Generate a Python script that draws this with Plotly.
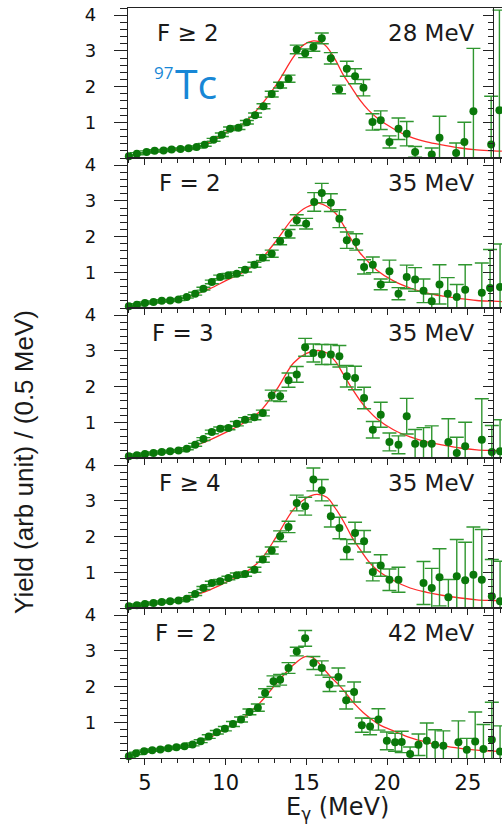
import plotly.graph_objects as go

# ---------------- data ----------------
P1_X = [4.0, 4.5, 5.1, 5.6, 6.15, 6.65, 7.2, 7.7, 8.2, 8.7, 9.25, 9.76, 10.27, 10.79, 11.31, 11.82, 12.34, 12.85, 13.37, 13.89,
        14.4, 14.92, 15.43, 15.95, 16.51, 17.02, 17.5, 18.01, 18.53, 19.09, 19.6, 20.14, 20.7, 21.21, 21.73, 22.76, 23.24,
        24.27, 24.78, 25.34, 26.44, 26.95]
P1_Y = [0.05, 0.12, 0.17, 0.2, 0.21, 0.24, 0.25, 0.27, 0.31, 0.37, 0.51, 0.65, 0.82, 0.85, 1.0, 1.2, 1.45, 1.79, 2.04, 2.22,
        3.04, 2.93, 3.11, 3.35, 2.79, 1.92, 2.5, 2.29, 1.97, 1.01, 1.06, 0.45, 0.82, 0.68, 0.17, 0.10, 0.57,
        0.14, 0.45, 1.31, 0.38, 1.34]
P1_E = [0.03, 0.03, 0.03, 0.03, 0.03, 0.03, 0.03, 0.03, 0.03, 0.04, 0.04, 0.05, 0.05, 0.05, 0.05, 0.06, 0.07, 0.08, 0.08, 0.1,
        0.12, 0.12, 0.12, 0.15, 0.16, 0.12, 0.21, 0.21, 0.23, 0.23, 0.26, 0.17, 0.3, 0.34, 0.15, 0.18, 0.6,
        0.28, 0.55, 1.76, 1.35, 2.8]

P2_X = [4.0, 4.5, 5.0, 5.53, 6.04, 6.56, 7.08, 7.59, 8.11, 8.62, 9.14, 9.66, 10.17, 10.69, 11.2, 11.78, 12.3, 12.85, 13.37, 13.89,
        14.4, 14.98, 15.48, 15.95, 16.51, 17.04, 17.5, 18.08, 18.57, 19.11, 19.6, 20.14, 20.7, 21.21, 21.73, 22.25, 22.76,
        23.24, 23.75, 24.31, 24.83, 25.86, 26.37, 26.99]
P2_Y = [0.05, 0.09, 0.14, 0.17, 0.2, 0.21, 0.24, 0.31, 0.4, 0.54, 0.73, 0.87, 0.92, 0.96, 1.07, 1.21, 1.41, 1.52, 1.87, 2.08,
        2.46, 2.36, 2.97, 3.22, 2.95, 2.5, 1.9, 1.85, 1.15, 1.21, 0.66, 1.03, 0.4, 0.87, 0.8, 0.48, 0.19,
        0.66, 0.4, 0.31, 0.51, 0.43, 0.56, 0.59]
P2_E = [0.03, 0.03, 0.03, 0.03, 0.03, 0.03, 0.03, 0.03, 0.04, 0.04, 0.05, 0.05, 0.05, 0.05, 0.06, 0.07, 0.08, 0.1, 0.1, 0.12,
        0.15, 0.15, 0.26, 0.27, 0.25, 0.25, 0.23, 0.23, 0.2, 0.22, 0.15, 0.31, 0.17, 0.33, 0.33, 0.33, 0.2,
        0.55, 0.45, 0.35, 0.7, 0.83, 1.08, 1.2]

P3_X = [4.0, 4.5, 5.0, 5.53, 6.04, 6.56, 7.08, 7.59, 8.11, 8.62, 9.14, 9.66, 10.17, 10.69, 11.2, 11.78, 12.3, 12.85, 13.37, 13.89,
        14.4, 14.92, 15.43, 15.95, 16.51, 17.04, 17.5, 18.01, 18.57, 19.11, 19.6, 20.14, 20.7, 21.21, 21.73, 22.25, 22.76,
        23.79, 24.31, 24.83, 25.86, 26.48, 26.99]
P3_Y = [0.05, 0.08, 0.11, 0.14, 0.17, 0.19, 0.21, 0.26, 0.37, 0.53, 0.73, 0.82, 0.84, 0.96, 1.07, 1.14, 1.26, 1.75, 1.73, 2.18,
        2.34, 3.1, 2.94, 2.9, 2.9, 2.85, 2.29, 2.24, 1.68, 0.79, 1.21, 0.45, 0.37, 1.17, 0.4, 0.4, 0.4,
        0.45, 0.14, 0.33, 0.51, 0.17, 0.19]
P3_E = [0.03, 0.03, 0.03, 0.03, 0.03, 0.03, 0.03, 0.03, 0.04, 0.04, 0.05, 0.05, 0.05, 0.06, 0.06, 0.07, 0.08, 0.15, 0.15, 0.2,
        0.22, 0.25, 0.25, 0.28, 0.28, 0.3, 0.3, 0.33, 0.3, 0.23, 0.35, 0.25, 0.25, 0.5, 0.4, 0.45, 0.5,
        0.65, 0.44, 0.67, 1.15, 0.74, 0.88]

P4_X = [4.0, 4.5, 5.0, 5.53, 6.04, 6.56, 7.08, 7.59, 8.11, 8.62, 9.14, 9.66, 10.17, 10.69, 11.2, 11.78, 12.3, 12.85, 13.37, 13.89,
        14.4, 14.92, 15.43, 15.95, 16.51, 17.04, 17.5, 18.01, 18.57, 19.11, 19.6, 20.14, 20.7, 22.25, 22.76, 23.24, 23.79,
        24.31, 24.83, 25.34, 25.86, 26.48, 26.99]
P4_Y = [0.05, 0.08, 0.11, 0.14, 0.17, 0.19, 0.21, 0.26, 0.39, 0.56, 0.7, 0.75, 0.84, 0.92, 0.95, 1.07, 1.36, 1.61, 2.01, 2.27,
        2.94, 2.85, 3.6, 3.3, 2.57, 2.24, 1.64, 2.1, 1.87, 1.01, 1.19, 0.79, 0.79, 0.7, 0.56, 0.86, 0.3,
        0.89, 0.78, 0.93, 0.79, 0.33, 0.19]
P4_E = [0.03, 0.03, 0.03, 0.03, 0.03, 0.03, 0.03, 0.03, 0.04, 0.04, 0.05, 0.05, 0.05, 0.06, 0.06, 0.07, 0.08, 0.1, 0.15, 0.16,
        0.22, 0.25, 0.32, 0.3, 0.3, 0.3, 0.28, 0.3, 0.3, 0.25, 0.3, 0.3, 0.35, 0.6, 0.55, 0.8, 0.5,
        1.03, 1.06, 1.34, 1.41, 1.03, 1.12]

P5_X = [4.0, 4.45, 4.95, 5.45, 5.95, 6.45, 6.95, 7.45, 7.95, 8.45, 8.95, 9.45, 9.95, 10.45, 10.95, 11.47, 11.99, 12.44, 12.96, 13.37,
        13.89, 14.4, 14.92, 15.43, 15.95, 16.43, 16.98, 17.46, 17.95, 18.43, 18.94, 19.46, 19.98, 20.49, 20.9, 21.42, 21.94,
        22.45, 22.97, 23.48, 24.41, 24.93, 25.45, 25.96, 26.48, 26.99]
P5_Y = [0.05, 0.13, 0.19, 0.22, 0.24, 0.27, 0.3, 0.33, 0.38, 0.47, 0.6, 0.72, 0.82, 0.95, 1.08, 1.29, 1.41, 1.82, 2.15, 2.19,
        2.52, 2.98, 3.35, 2.66, 2.52, 2.06, 2.27, 1.62, 1.85, 0.92, 0.88, 1.08, 0.48, 0.44, 0.45, 0.11, 0.37,
        0.48, 0.37, 0.34, 0.44, 0.23, 0.46, 0.25, 0.51, 0.18]
P5_E = [0.03, 0.03, 0.03, 0.03, 0.03, 0.03, 0.03, 0.03, 0.04, 0.04, 0.05, 0.05, 0.06, 0.07, 0.07, 0.08, 0.1, 0.12, 0.15, 0.15,
        0.15, 0.12, 0.22, 0.18, 0.2, 0.2, 0.25, 0.25, 0.28, 0.2, 0.23, 0.3, 0.25, 0.25, 0.3, 0.2, 0.3,
        0.5, 0.42, 0.42, 0.6, 0.32, 0.83, 0.69, 1.05, 0.72]

# fitted curves (red lines)
C1_X = [4.0, 4.9, 5.94, 6.97, 8.0, 9.03, 10.07, 11.1, 12.13, 13.16, 14.2, 14.8, 15.43, 15.95, 16.26, 16.78, 17.29, 17.8,
        18.32, 18.84, 19.36, 20.39, 21.42, 22.45, 23.48, 24.52, 25.55, 26.58, 27.1]
C1_Y = [0.05, 0.15, 0.2, 0.24, 0.28, 0.45, 0.73, 0.96, 1.45, 2.07, 2.83, 3.16, 3.28, 3.23, 3.11, 2.76, 2.32, 1.97,
        1.62, 1.34, 1.13, 0.82, 0.59, 0.45, 0.36, 0.28, 0.23, 0.2, 0.19]
C2_X = [4.0, 4.9, 5.94, 6.97, 8.0, 9.03, 10.07, 11.1, 12.13, 13.16, 14.2, 15.0, 15.8, 16.78, 17.29, 17.8, 18.32, 18.84,
        19.36, 20.39, 21.42, 22.45, 23.48, 24.52, 25.55, 26.58, 27.1]
C2_Y = [0.03, 0.1, 0.17, 0.23, 0.36, 0.54, 0.78, 1.0, 1.34, 1.9, 2.53, 2.82, 2.93, 2.66, 2.32, 1.9, 1.54, 1.29,
        1.06, 0.76, 0.56, 0.42, 0.33, 0.26, 0.21, 0.19, 0.18]
C3_X = [4.0, 4.9, 5.94, 6.97, 8.0, 9.03, 10.07, 11.1, 12.13, 13.16, 14.2, 15.0, 15.74, 16.26, 16.78, 17.29, 17.8, 18.32,
        18.84, 19.36, 20.39, 21.42, 22.45, 23.48, 24.52, 25.55, 26.58, 27.1]
C3_Y = [0.03, 0.09, 0.15, 0.21, 0.33, 0.51, 0.73, 0.98, 1.31, 1.92, 2.66, 2.93, 3.01, 2.94, 2.71, 2.34, 1.96, 1.61,
        1.33, 1.1, 0.79, 0.59, 0.45, 0.36, 0.28, 0.23, 0.21, 0.2]
C4_X = [4.0, 4.9, 5.94, 6.97, 8.0, 9.03, 10.07, 11.1, 12.13, 13.16, 14.2, 15.0, 15.64, 16.26, 16.78, 17.29, 17.8, 18.32,
        18.84, 19.36, 20.39, 21.42, 22.45, 23.48, 24.52, 25.55, 26.58, 27.1]
C4_Y = [0.03, 0.09, 0.15, 0.21, 0.35, 0.51, 0.73, 0.96, 1.33, 2.01, 2.76, 3.08, 3.18, 3.1, 2.8, 2.43, 2.0, 1.64,
        1.31, 1.07, 0.77, 0.56, 0.44, 0.35, 0.28, 0.23, 0.21, 0.2]
C5_X = [4.0, 4.9, 5.94, 6.97, 8.0, 9.03, 10.07, 11.1, 12.13, 13.16, 14.2, 14.92, 15.43, 15.95, 16.47, 16.98, 17.5, 18.01,
        18.53, 19.05, 19.56, 20.39, 21.42, 22.45, 23.48, 24.52, 25.55, 26.58, 27.1]
C5_Y = [0.06, 0.18, 0.24, 0.3, 0.39, 0.57, 0.85, 1.13, 1.55, 2.1, 2.61, 2.84, 2.8, 2.56, 2.29, 2.06, 1.78, 1.5,
        1.27, 1.08, 0.92, 0.76, 0.57, 0.44, 0.34, 0.27, 0.22, 0.19, 0.19]

LEFT_LABELS = ["F ≥ 2", "F = 2", "F = 3", "F ≥ 4", "F = 2"]
RIGHT_LABELS = ["28 MeV", "35 MeV", "35 MeV", "35 MeV", "42 MeV"]
Y_TICKS = [1, 2, 3, 4]
X_TICKS = [5, 10, 15, 20, 25]

PANELS = [(P1_X, P1_Y, P1_E, C1_X, C1_Y), (P2_X, P2_Y, P2_E, C2_X, C2_Y), (P3_X, P3_Y, P3_E, C3_X, C3_Y),
          (P4_X, P4_Y, P4_E, C4_X, C4_Y), (P5_X, P5_Y, P5_E, C5_X, C5_Y)]

# ---------------- figure ----------------
W, H = 502, 828
ML, MR, MT, MB = 128, 0, 8, 70
PW, PH = W - ML - MR, H - MT - MB
XR = [3.95, 27.11]
YR = [0, 4.2]
FONT = "DejaVu Sans, Liberation Sans, Arial"
MARK = "#0a780a"
ERRC = "#2f962f"
RED = "#ff2a2a"
AX = "#222222"

fig = go.Figure()
layout = {}
n = len(PANELS)
for i, (px, py, pe, cx, cy) in enumerate(PANELS):
    k = i + 1
    xs = "" if k == 1 else str(k)
    ys = xs
    fig.add_trace(go.Scatter(x=cx, y=cy, mode="lines", line=dict(color=RED, width=1.3, shape="spline"),
                             xaxis="x" + xs, yaxis="y" + ys, showlegend=False, hoverinfo="skip"))
    fig.add_trace(go.Scatter(x=px, y=py, mode="markers", cliponaxis=False,
                             marker=dict(color=MARK, size=8, line=dict(width=0)),
                             error_y=dict(type="data", array=pe, visible=True, color=ERRC, thickness=1.4, width=7),
                             xaxis="x" + xs, yaxis="y" + ys, showlegend=False))
    # dummy trace for the right-hand frame axis
    fig.add_trace(go.Scatter(x=[None], y=[None], xaxis="x" + xs, yaxis="y" + str(k + n),
                             showlegend=False, hoverinfo="skip"))
    top = 1 - i / n
    bot = 1 - (i + 1) / n
    layout["xaxis" + xs] = dict(
        range=XR, anchor="y" + ys, domain=[0, 1], showgrid=False, zeroline=False,
        showline=True, linecolor=AX, linewidth=1.2, mirror=True,
        tickvals=X_TICKS, ticks="outside", ticklen=6, tickwidth=1.2, tickcolor=AX,
        minor=dict(dtick=1, ticks="outside", ticklen=4, tickwidth=1.0, tickcolor=AX),
        showticklabels=(k == n), ticklabelstandoff=0,
        tickfont=dict(family=FONT, size=21, color="#111111"))
    layout["yaxis" + ys] = dict(
        range=YR, anchor="x" + xs, domain=[bot, top], showgrid=False, zeroline=False,
        showline=True, linecolor=AX, linewidth=1.2,
        tickvals=Y_TICKS, ticks="outside", ticklen=13, tickwidth=1.2, tickcolor=AX,
        minor=dict(dtick=0.2, ticks="outside", ticklen=7, tickwidth=1.0, tickcolor=AX),
        ticklabelstandoff=14, tickfont=dict(family=FONT, size=18, color="#111111"))
    layout["yaxis" + str(k + n)] = dict(
        range=YR, overlaying="y" + ys, anchor="free", position=(493 - ML) / PW, side="right",
        showgrid=False, zeroline=False, showline=True, linecolor=AX, linewidth=1.2,
        tickvals=Y_TICKS, ticks="inside", ticklen=10, tickwidth=1.2, tickcolor=AX,
        minor=dict(dtick=0.2, ticks="inside", ticklen=5, tickwidth=1.0, tickcolor=AX),
        showticklabels=False)


def px2paper(xpx, ypx):
    return (xpx - ML) / PW, (H - MB - ypx) / PH


annotations = []
panel_tops = [MT + PH / n * i for i in range(n)]
left_x = [155, 157, 150, 157, 153]
for i in range(n):
    yc = panel_tops[i] + 25
    xa, ya = px2paper(left_x[i], yc)
    annotations.append(dict(text=LEFT_LABELS[i], x=xa, y=ya, xref="paper", yref="paper", xanchor="left",
                            yanchor="middle", showarrow=False, font=dict(family=FONT, size=23, color="#1a1a1a")))
    xa, ya = px2paper(477, yc)
    annotations.append(dict(text=RIGHT_LABELS[i], x=xa, y=ya, xref="paper", yref="paper", xanchor="right",
                            yanchor="middle", showarrow=False, font=dict(family=FONT, size=23, color="#1a1a1a")))

BLUE = "#1787d6"
xa, ya = px2paper(152, 72)
annotations.append(dict(text="97", x=xa, y=ya, xref="paper", yref="paper", xanchor="left", yanchor="middle",
                        showarrow=False, font=dict(family="Open Sans", size=17, color=BLUE)))
xa, ya = px2paper(173, 83)
annotations.append(dict(text="Tc", x=xa, y=ya, xref="paper", yref="paper", xanchor="left", yanchor="middle",
                        showarrow=False, font=dict(family="Open Sans", size=41, color=BLUE)))

xa, ya = px2paper(337, 808)
annotations.append(dict(text="E<sub>γ</sub> (MeV)", x=xa, y=ya, xref="paper", yref="paper", xanchor="center",
                        yanchor="middle", showarrow=False, font=dict(family=FONT, size=24, color="#1a1a1a")))
xa, ya = px2paper(24, 462)
annotations.append(dict(text="Yield (arb unit) / (0.5 MeV)", x=xa, y=ya, xref="paper", yref="paper",
                        xanchor="center", yanchor="middle", textangle=-90, showarrow=False,
                        font=dict(family="Liberation Sans, Arial", size=26, color="#1a1a1a")))

fig.update_layout(width=W, height=H, margin=dict(l=ML, r=MR, t=MT, b=MB, pad=0),
                  paper_bgcolor="white", plot_bgcolor="white", showlegend=False,
                  annotations=annotations, **layout)

fig.write_html("out.html", config={"displayModeBar": False},
               post_script="document.body.style.margin='0px';document.body.style.overflow='hidden';")
